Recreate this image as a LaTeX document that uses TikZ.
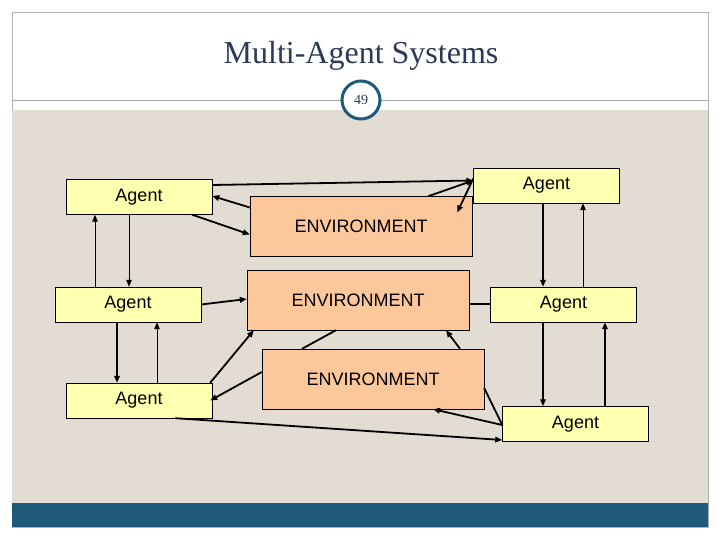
\documentclass[tikz,border=0pt]{standalone}
\usepackage{fontspec}
\setmainfont{Liberation Serif}
\newfontfamily\boxfont{Liberation Sans}
\usetikzlibrary{arrows.meta}
\definecolor{agentfill}{HTML}{FFFFB0}
\definecolor{envfill}{HTML}{FCC89B}
\definecolor{slidebg}{HTML}{E2DCD2}
\definecolor{slidebar}{HTML}{1F5A7A}
\definecolor{titlecol}{HTML}{2B3A55}
\tikzset{
  agent/.style={draw, fill=agentfill, minimum width=146pt, minimum height=35pt,
    inner sep=0pt, font=\boxfont\fontsize{18}{18}\selectfont},
  env/.style={draw, fill=envfill, minimum width=222pt, minimum height=60pt,
    inner sep=0pt, font=\boxfont\fontsize{18}{18}\selectfont},
  flow/.style={line width=1.8pt, -{Triangle[length=7pt,width=5.5pt]}},
  thinflow/.style={line width=1pt, -{Triangle[length=7pt,width=5.5pt]}},
  link/.style={line width=1.8pt}
}
\begin{document}
\begin{tikzpicture}[x=1pt,y=-1pt]
\useasboundingbox (0,0) rectangle (720,540);
% slide
\fill[white] (0,0) rectangle (720,540);
\draw[gray!60] (12,12) rectangle (708,527);
\fill[slidebg] (12,110) rectangle (708,503);
\fill[slidebar] (12,503) rectangle (708,527);
\draw[gray!70] (12,100) -- (708,100);
\node[font=\fontsize{32}{32}\selectfont, text=titlecol] (title) at (361,56) {Multi-Agent Systems};
\node[circle, draw=slidebar, line width=3pt, fill=white, minimum size=38pt,
  font=\fontsize{14}{14}\selectfont, text=titlecol] (page) at (361,100) {49};

% boxes
\node[env] (E1) at (361,226.5) {ENVIRONMENT};
\node[env] (E2) at (358,300) {ENVIRONMENT};
\node[env] (E3) at (373,379) {ENVIRONMENT};
\node[agent] (A1) at (139,197) {Agent};
\node[agent] (A2) at (546.5,185.5) {Agent};
\node[agent] (A3) at (128,304.5) {Agent};
\node[agent] (A4) at (563.5,304.5) {Agent};
\node[agent] (A5) at (139,400.5) {Agent};
\node[agent] (A6) at (575.5,424) {Agent};

% top
\draw[flow] ([yshift=12pt]A1.east) -- ([yshift=5pt]A2.west);
\draw[flow] ([xshift=67pt]E1.north) -- ([yshift=5pt]A2.west);
\draw[flow] ([yshift=7pt]A2.west) -- ([xshift=-15pt,yshift=14pt]E1.east);
\draw[flow] ([yshift=19pt]E1.west) -- ([yshift=1pt]A1.east);
\draw[flow] ([xshift=-20pt]A1.south east) -- ([yshift=-8pt]E1.west);

% verticals
\draw[thinflow] ([xshift=-33pt]A3.north) -- ([xshift=-33pt]A3.north |- A1.south);
\draw[thinflow] ([xshift=-10pt]A1.south) -- ([xshift=-10pt]A1.south |- A3.north);
\draw[flow] ([xshift=-11pt]A3.south) -- ([xshift=-11pt]A3.south |- A5.north);
\draw[thinflow] ([xshift=18pt]A5.north) -- ([xshift=18pt]A5.north |- A3.south);
\draw[flow] ([xshift=-3.5pt]A2.south) -- ([xshift=-3.5pt]A2.south |- A4.north);
\draw[thinflow] ([xshift=19.5pt]A4.north) -- ([xshift=19.5pt]A4.north |- A2.south);
\draw[flow] ([xshift=-20.5pt]A4.south) -- ([xshift=-20.5pt]A4.south |- A6.north);
\draw[flow] ([xshift=29.5pt]A6.north) -- ([xshift=29.5pt]A6.north |- A4.south);

% middle
\draw[flow] (A3.east) -- ([yshift=1pt]E2.west);
\draw[link] ([yshift=-4pt]E2.east) -- ([yshift=-4pt]E2.east -| A4.west);
\draw[flow] ([xshift=-2pt]A5.north east) -- ([xshift=7pt]E2.south west);
\draw[flow] ([yshift=7pt]E3.west) -- ([xshift=-2pt]A5.east);
\draw[link] ([xshift=-71pt]E3.north) -- ([xshift=-22pt]E2.south);
\draw[flow] ([xshift=87pt]E3.north) -- ([xshift=88pt]E2.south);

% bottom
\draw[link] ([yshift=-9pt]E3.east) -- ([yshift=-1pt]A6.west);
\draw[flow] ([yshift=-1pt]A6.west) -- ([xshift=60pt]E3.south);
\draw[flow] ([xshift=-37pt]A5.south east) -- ([yshift=-16pt]A6.west);
\end{tikzpicture}
\end{document}
